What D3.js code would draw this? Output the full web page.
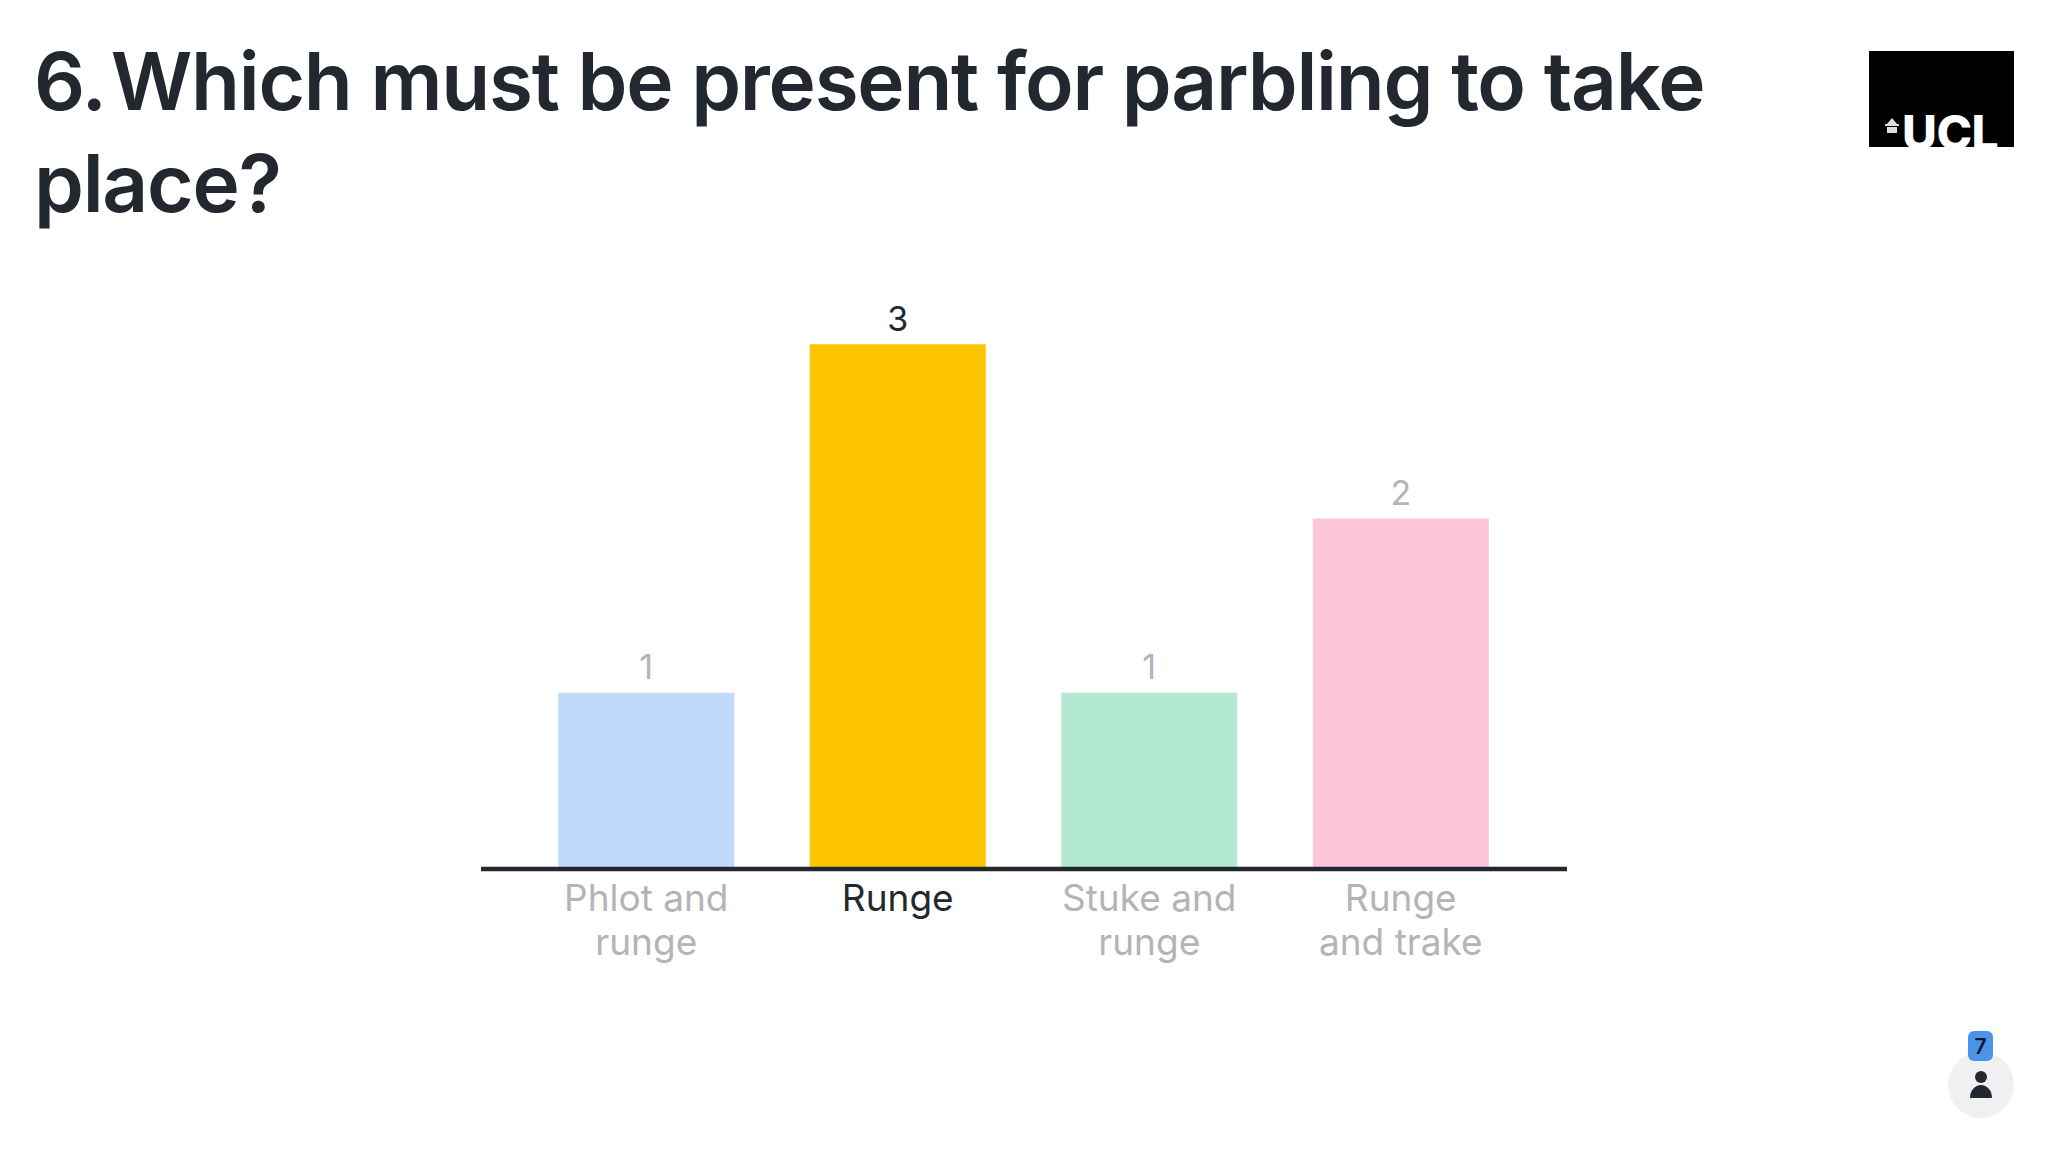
<!DOCTYPE html>
<html><head><meta charset="utf-8">
<script src="https://cdn.jsdelivr.net/npm/d3@7"></script>
<style>html,body{margin:0;padding:0;background:#fff}svg{display:block}text{font-family:Inter,"Noto Sans",sans-serif}</style>
</head><body><svg id="c" width="2048" height="1152"></svg>
<script>
const titleLines = [["6.", "Which must be present for parbling to take"], ["place?"]];
const categories = ["Phlot and runge", "Runge", "Stuke and runge", "Runge and trake"];
const labelLines = [["Phlot and", "runge"], ["Runge"], ["Stuke and", "runge"], ["Runge", "and trake"]];
const values = [1, 3, 1, 2];
const colors = ["#c2dafa", "#fdc500", "#b3e8d0", "#fec4da"];
const correct = [false, true, false, false];
const responses = 7;

const svg = d3.select("#c");
const ink = "#23272f", muted = "#b4b4b6";

svg.append("g").selectAll("text").data(titleLines).join("text")
  .attr("x", 34).attr("y", (d, i) => 110 + i * 102)
  .attr("font-size", 80).attr("font-weight", 600).attr("fill", ink).attr("letter-spacing", -1.25)
  .each(function (parts) {
    const t = d3.select(this);
    parts.forEach((s, k) => t.append("tspan").attr("dx", k ? 5 : 0).text(s));
  });

const x = d3.scaleBand().domain(categories).range([520.5, 1526.5]).paddingInner(0.3).paddingOuter(0.15);
const y = d3.scaleLinear().domain([0, 3]).range([867, 344.3]);

svg.append("g").selectAll("rect").data(categories).join("rect")
  .attr("x", d => x(d)).attr("width", x.bandwidth())
  .attr("y", (d, i) => y(values[i])).attr("height", (d, i) => y(0) - y(values[i]))
  .attr("fill", (d, i) => colors[i]);

svg.append("g").selectAll("text").data(categories).join("text")
  .attr("x", d => x(d) + x.bandwidth() / 2).attr("y", (d, i) => y(values[i]) - 13.5)
  .attr("text-anchor", "middle").attr("font-size", 34)
  .attr("fill", (d, i) => correct[i] ? ink : muted)
  .text((d, i) => values[i]);

const axisG = svg.append("g").attr("transform", "translate(0,869)")
  .call(d3.axisBottom(x).tickSize(0).tickPadding(0));
axisG.select(".domain").remove();
axisG.append("line").attr("x1", 481).attr("x2", 1567).attr("stroke", ink).attr("stroke-width", 4.5);
axisG.selectAll(".tick text").each(function (d, i) {
  const t = d3.select(this).text(null).attr("y", 0).attr("dy", null)
    .attr("font-size", 37).attr("fill", correct[i] ? ink : muted)
    .style("font-family", 'Inter,"Noto Sans",sans-serif');
  labelLines[i].forEach((s, k) => t.append("tspan").attr("x", 0).attr("y", 42 + k * 44).text(s));
});

// UCL logo
const logo = svg.append("g");
logo.append("defs").append("clipPath").attr("id", "lc").append("rect").attr("x", 1869).attr("y", 51).attr("width", 145).attr("height", 97);
logo.append("rect").attr("x", 1869).attr("y", 51).attr("width", 145).attr("height", 96).attr("fill", "#000");
logo.append("text").attr("x", 1902).attr("y", 150).attr("clip-path", "url(#lc)")
  .attr("font-size", 48).attr("font-weight", 800).attr("fill", "#fff").attr("letter-spacing", -0.5).text("UCL");
logo.append("path").attr("d", "M1887 124l5-6 5 6h2v2h-14v-2zM1887 127h10v6h-10z").attr("fill", "#ddd");

// responses badge
const b = svg.append("g");
b.append("circle").attr("cx", 1981).attr("cy", 1085).attr("r", 33).attr("fill", "#f0f0f2");
b.append("circle").attr("cx", 1981).attr("cy", 1077).attr("r", 6).attr("fill", ink);
b.append("path").attr("d", "M1970 1098a11 13 0 0 1 22 0z").attr("fill", ink);
b.append("rect").attr("x", 1968).attr("y", 1031).attr("width", 25).attr("height", 30).attr("rx", 6).attr("fill", "#4a94ec");
b.append("text").attr("x", 1980.5).attr("y", 1054).attr("text-anchor", "middle").attr("font-size", 21).attr("font-weight", 600).attr("fill", "#101828").text(responses);
</script></body></html>
